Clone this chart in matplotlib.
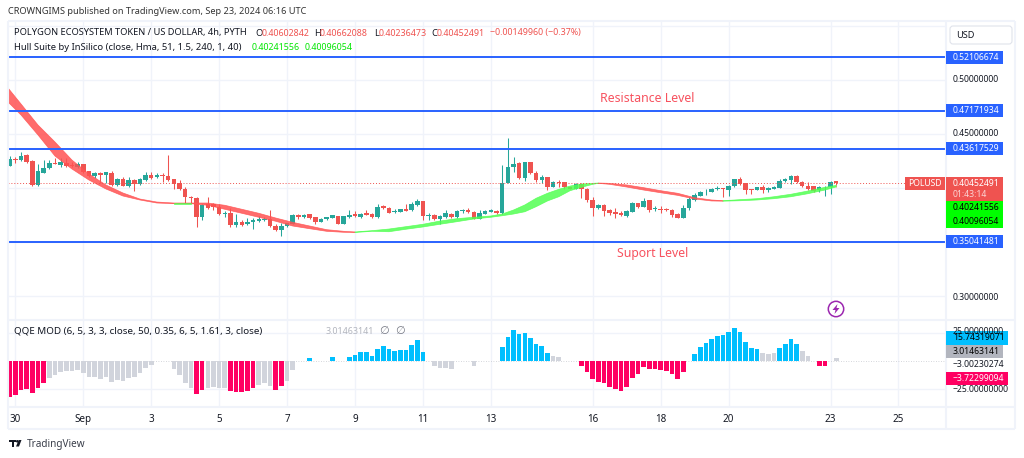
import matplotlib
matplotlib.use("Agg")
import matplotlib.pyplot as plt
import numpy as np
from matplotlib.patches import Circle, FancyBboxPatch, Polygon, Rectangle

plt.rcParams["font.family"] = ["Noto Sans", "DejaVu Sans"]

# 4h candles, bar 0 is Aug 29 20:00
open_ = [
    .4203, .4268, .4259, .4302, .4250, .4027, .4142, .4182, .4231, .4216,
    .4234, .4213, .4197, .4219, .4154, .4114, .4135, .4117, .4142, .4027,
    .4080, .4018, .4073, .4033, .4073, .4117, .4101, .4123, .4111, .4080,
    .4042, .3993, .3919, .3910, .3727, .3851, .3851, .3826, .3758, .3764,
    .3656, .3684, .3663, .3684, .3697, .3703, .3709, .3650, .3610, .3647,
    .3666, .3749, .3727, .3755, .3727, .3687, .3709, .3724, .3740, .3669,
    .3727, .3755, .3734, .3764, .3758, .3727, .3829, .3817, .3774, .3780,
    .3802, .3792, .3842, .3876, .3743, .3749, .3712, .3727, .3761, .3727,
    .3789, .3795, .3780, .3712, .3758, .3780, .3786, .3764, .4042, .4191,
    .4228, .4095, .4237, .4142, .4077, .4098, .4012, .4058, .4055, .4005,
    .3990, .4036, .3993, .3885, .3811, .3839, .3795, .3774, .3771, .3743,
    .3780, .3857, .3823, .3885, .3802, .3808, .3805, .3795, .3758, .3721,
    .3811, .3888, .3928, .3968, .3965, .3990, .3996, .3981, .4018, .4083,
    .4042, .3987, .3981, .4009, .3978, .3993, .4002, .4061, .4073, .4111,
    .4058, .4021, .4015, .3981, .4005, .4005, .40603,
]
close = [
    .4265, .4259, .4299, .4243, .4027, .4157, .4188, .4234, .4222, .4240,
    .4203, .4200, .4219, .4151, .4111, .4135, .4117, .4145, .4027, .4083,
    .4021, .4073, .4036, .4080, .4120, .4095, .4120, .4114, .4073, .4033,
    .3990, .3913, .3907, .3727, .3845, .3811, .3820, .3758, .3771, .3656,
    .3681, .3660, .3681, .3703, .3709, .3712, .3650, .3607, .3650, .3672,
    .3749, .3727, .3749, .3718, .3687, .3712, .3727, .3746, .3669, .3737,
    .3752, .3740, .3761, .3749, .3727, .3823, .3817, .3771, .3786, .3802,
    .3789, .3851, .3879, .3743, .3752, .3709, .3740, .3764, .3727, .3786,
    .3798, .3774, .3712, .3764, .3786, .3792, .3764, .4042, .4194, .4222,
    .4095, .4237, .4135, .4073, .4098, .4012, .4055, .4042, .4005, .3990,
    .4036, .3990, .3885, .3811, .3839, .3786, .3764, .3761, .3746, .3783,
    .3860, .3823, .3882, .3792, .3811, .3798, .3795, .3746, .3721, .3814,
    .3894, .3934, .3962, .3975, .3987, .3999, .3990, .4021, .4080, .4033,
    .3981, .3978, .4005, .3978, .4002, .4012, .4067, .4080, .4111, .4052,
    .4018, .3987, .3975, .4005, .4009, .4058, .40452,
]
high = [
    .4296, .4284, .4333, .4312, .4259, .4222, .4259, .4259, .4281, .4275,
    .4275, .4243, .4243, .4219, .4160, .4145, .4151, .4151, .4160, .4095,
    .4104, .4104, .4080, .4089, .4145, .4145, .4135, .4135, .4305, .4086,
    .4073, .4005, .3928, .3919, .3851, .3919, .3863, .3851, .3786, .3811,
    .3755, .3703, .3718, .3718, .3740, .3727, .3795, .3666, .3672, .3678,
    .3755, .3755, .3755, .3758, .3734, .3718, .3734, .3752, .3743, .3740,
    .3795, .3786, .3771, .3792, .3764, .3851, .3845, .3820, .3802, .3805,
    .3851, .3870, .3900, .3879, .3771, .3755, .3752, .3795, .3764, .3792,
    .3808, .3811, .3783, .3792, .3792, .3802, .3792, .4216, .4463, .4290,
    .4243, .4240, .4240, .4160, .4120, .4101, .4064, .4073, .4058, .4012,
    .4049, .4042, .3996, .3919, .3851, .3851, .3808, .3811, .3783, .3795,
    .3866, .3863, .3907, .3891, .3832, .3832, .3814, .3808, .3771, .3842,
    .3919, .3950, .3972, .3993, .3999, .4018, .3999, .4027, .4086, .4098,
    .4049, .3990, .4012, .4027, .4005, .4018, .4080, .4089, .4117, .4117,
    .4064, .4058, .4021, .4018, .4018, .4067, .40662,
]
low = [
    .4203, .4234, .4253, .4234, .4021, .4021, .4142, .4179, .4219, .4197,
    .4191, .4191, .4182, .4135, .4098, .4089, .4042, .4042, .4018, .4018,
    .4018, .4012, .3975, .4027, .4067, .4083, .4095, .4058, .4067, .3990,
    .3981, .3857, .3857, .3641, .3703, .3805, .3795, .3752, .3727, .3641,
    .3635, .3647, .3656, .3625, .3687, .3697, .3641, .3601, .3557, .3641,
    .3663, .3709, .3721, .3715, .3666, .3684, .3703, .3721, .3666, .3666,
    .3724, .3727, .3721, .3746, .3724, .3724, .3802, .3768, .3764, .3777,
    .3786, .3789, .3832, .3703, .3703, .3706, .3663, .3721, .3724, .3724,
    .3764, .3771, .3709, .3709, .3755, .3774, .3755, .3761, .4042, .4148,
    .4083, .4067, .4126, .4058, .4049, .3981, .4005, .4012, .3987, .3987,
    .3987, .3904, .3870, .3740, .3805, .3743, .3749, .3724, .3740, .3734,
    .3777, .3817, .3820, .3780, .3786, .3771, .3783, .3727, .3718, .3718,
    .3795, .3882, .3925, .3934, .3962, .3981, .3919, .3928, .4012, .4027,
    .3941, .3944, .3978, .3956, .3959, .3987, .3999, .4055, .4036, .4042,
    .4005, .3981, .3962, .3962, .3928, .3944, .40236,
]

# hull band, read every few bars
hull_idx = [-1, 2, 5, 8, 11, 14, 17, 20, 23, 26, 29, 32, 35, 38, 41, 44, 47, 50,
            53, 56, 59, 61, 64, 67, 70, 73, 76, 79, 82, 85, 87, 89, 91, 93, 95,
            97, 99, 101, 103, 104, 106, 109, 112, 115, 118, 121, 124, 126, 129,
            132, 135, 138, 141, 144, 146]
hull_upper = [
    .4972, .4778, .4583, .4426, .4259, .4130, .4028, .3954, .3898, .3870, .3861,
    .3861, .3861, .3840, .3803, .3766, .3722, .3682, .3648, .3614, .3599, .3593,
    .3605, .3620, .3642, .3664, .3694, .3716, .3729, .3741, .3759, .3796, .3843,
    .3905, .3951, .3988, .4018, .4037, .4043, .4046, .4043, .4028, .4003, .3975,
    .3951, .3910, .3889, .3882, .3892, .3901, .3919, .3942, .3972, .4006, .40242,
]
hull_lower = [
    .4833, .4676, .4491, .4296, .4176, .4074, .3991, .3926, .3889, .3861, .3855,
    .3855, .3840, .3803, .3766, .3729, .3692, .3648, .3623, .3599, .3590, .3588,
    .3599, .3595, .3618, .3639, .3664, .3688, .3713, .3729, .3743, .3759, .3780,
    .3827, .3880, .3919, .3975, .4006, .4034, .4043, .4034, .4009, .3981, .3956,
    .3932, .3898, .3880, .3878, .3882, .3889, .3901, .3919, .3947, .3981, .40096,
]
hull_green_spans = [(29, 32), (61, 104), (126, 146)]

levels = [0.52106674, 0.47171934, 0.43617529, 0.35041481]
last_price = 0.40452491

qqe_values = [
    -31.8, -30.1, -25.6, -25.0, -28.6, -24.4, -19.6, -14.9, -12.2, -9.5,
    -8.6, -8.6, -8.0, -11.0, -14.6, -14.6, -16.4, -14.6, -18.8, -17.3,
    -18.2, -15.5, -14.3, -11.0, -6.5, -3.6, 0, 0, 0, -7.4,
    -12.8, -19.3, -23.8, -29.5, -25.9, -23.8, -22.9, -23.8, -24.0, -26.8,
    -27.4, -28.0, -26.8, -24.1, -21.7, -19.9, -22.0, -25.9, -22.3, -18.2,
    -8.0, 0, 0, 2.7, 0, 0, 0, 3.3, 0, 0,
    3.3, 5.4, 7.7, 7.7, 4.8, 10.4, 13.4, 10.7, 9.2, 9.8,
    9.8, 14.0, 18.5, 8.3, 0, -4.2, -6.5, -6.0, -7.4, 0,
    0, 0, -4.2, 0, 0, 0, 0, 12.8, 21.1, 27.4,
    24.1, 24.7, 20.2, 15.5, 13.4, 6.8, 4.8, 3.3, 0, 0,
    0, -4.2, -9.8, -15.8, -18.8, -19.9, -23.2, -24.7, -26.5, -22.9,
    -14.9, -11.3, -5.7, -6.8, -7.4, -8.0, -8.6, -11.9, -15.8, -10.1,
    0, 6.0, 12.8, 15.8, 19.6, 22.3, 23.5, 25.6, 29.2, 25.6,
    17.0, 11.9, 10.4, 6.8, 6.0, 6.8, 11.3, 15.2, 19.6, 15.5,
    9.2, 4.2, 0, -4.2, -4.2, 0, 3.01,
]
qqe_state = (
    "r" * 7 + "n" * 26 + "rr" + "nnnn" + "r" * 5 + "nnn" + "rr" + "nnnn" + "b" + "nnn" + "b"
    + "nn" + "b" * 14 + "n" * 13 + "b" * 9 + "n" * 5 + "r" * 19 + "n" + "b" * 12 + "nnn"
    + "bbbb" + "nnn" + "rr" + "nn"
)

tick_idx = [1, 13, 25, 37, 49, 61, 73, 85, 103, 115, 127, 145, 157]
tick_labels = ["30", "Sep", "3", "5", "7", "9", "11", "13", "16", "18", "20", "23", "25"]
price_ticks = [0.55, 0.50, 0.45, 0.40, 0.35, 0.30]

UP = "#26a69a"
DOWN = "#ef5350"
BLUE = "#2962ff"
GRID = "#f0f3fa"
INK = "#131722"
QQE_COLORS = {"r": "#ff0062", "b": "#00bfff", "n": "#d1d4dc"}

W, H = 1024, 458
fig = plt.figure(figsize=(W / 100, H / 100), dpi=100)
ax = fig.add_axes([8 / W, (H - 319) / H, 938 / W, 298 / H])
qq = fig.add_axes([8 / W, (H - 407) / H, 938 / W, 87 / H], sharex=ax)

# main pane
x = np.arange(len(close))
open_a, close_a = np.array(open_), np.array(close)
colors = np.where(close_a >= open_a, UP, DOWN)
ax.vlines(x, low, high, colors=colors, lw=0.75, zorder=3)
ax.bar(x, np.abs(close_a - open_a), bottom=np.minimum(open_a, close_a), width=0.8, color=colors, zorder=4)

hx = np.array(hull_idx)
strict = np.zeros(len(hx), bool)
edge = np.zeros(len(hx), bool)
for a, b in hull_green_spans:
    strict |= (hx > a) & (hx < b)
    edge |= (hx >= a) & (hx <= b)
ax.fill_between(hx, hull_lower, hull_upper, where=~strict, color="#ff5252", alpha=0.85, lw=0.5, zorder=5)
ax.fill_between(hx, hull_lower, hull_upper, where=edge, color="#52ff52", alpha=0.85, lw=0.5, zorder=5)

for lv in levels:
    ax.axhline(lv, color=BLUE, lw=1.4, zorder=6)
ax.axhline(last_price, xmax=(905 - 8) / 938, color=DOWN, lw=0.7, ls=(0, (1, 2)), zorder=6)

ax.set_xlim(-0.3, 165.4)
ax.set_ylim(0.5 - 239 / 1080, 0.5 + 59 / 1080)
ax.set_yticks(price_ticks)
ax.grid(True, color=GRID, lw=1)
ax.set_axisbelow(True)
ax.tick_params(left=False, bottom=False, labelleft=False, labelbottom=False)
for s in ax.spines.values():
    s.set_visible(False)

# QQE pane
qv = np.array(qqe_values)
qq.bar(x, qv, width=0.82, color=[QQE_COLORS[c] for c in qqe_state], zorder=3)
qq.axhline(0, color="#c8cad0", lw=0.6, ls=(0, (1, 2)), zorder=2)
qq.set_ylim(-46 / 1.12, 41 / 1.12)
qq.set_yticks([-25, 25])
qq.set_xticks(tick_idx, tick_labels)
qq.grid(True, color=GRID, lw=1)
qq.set_axisbelow(True)
qq.tick_params(left=False, bottom=False, labelleft=False, labelsize=7.1, labelcolor=INK, pad=5, length=0)
qq.get_xticklabels()[1].set_fontweight("bold")
for s in qq.spines.values():
    s.set_visible(False)

# overlay in pixel coordinates for the frame, tags and captions
ov = fig.add_axes([0, 0, 1, 1], zorder=10)
ov.set_xlim(0, W)
ov.set_ylim(H, 0)
ov.axis("off")
ov.patch.set_alpha(0)


def txt(px, py, s, size=6.2, color=INK, ha="left", **kw):
    ov.text(px, py, s, fontsize=size, color=color, ha=ha, va="center", **kw)


def tag(y0, y1, color, x0=946, x1=1003):
    ov.add_patch(Rectangle((x0, y0), x1 - x0, y1 - y0, color=color, lw=0, zorder=2))


def price_y(p):
    return H - ax.transData.transform((0, p))[1]


for coords in ([(8, 21), (1015, 21)], [(8, 21), (8, 429)], [(1015, 21), (1015, 429)],
               [(8, 429), (1015, 429)], [(8, 319.5), (1015, 319.5)], [(8, 407), (1015, 407)],
               [(946, 21), (946, 429)]):
    ov.plot(*zip(*coords), color=GRID, lw=1.5, zorder=1, solid_capstyle="butt")

txt(8, 11, "CROWNGIMS published on TradingView.com, Sep 23, 2024 06:16 UTC", 6.6, "#333333")
txt(14, 33, "POLYGON ECOSYSTEM TOKEN / US DOLLAR, 4h, PYTH", 6.7)
for px, letter, val_x, val in [(255, "O", 262, "0.40602842"), (314, "H", 320, "0.40662088"),
                               (374, "L", 379, "0.40236473"), (431, "C", 437, "0.40452491")]:
    txt(px, 33, letter, 6.7)
    txt(val_x, 33, val, 6.4, DOWN)
txt(490, 33, "\u22120.00149960 (\u22120.37%)", 6.4, DOWN)
txt(14, 47, "Hull Suite by InSilico (close, Hma, 51, 1.5, 240, 1, 40)", 6.8)
txt(252, 47, "0.40241556", 6.4, "#00e600")
txt(305, 47, "0.40096054", 6.4, "#00e600")

txt(600, 98.5, "Resistance Level", 8.85, "#f7525f")
txt(617, 253, "Suport Level", 8.8, "#f7525f")

txt(14, 331, "QQE MOD (6, 5, 3, 3, close, 50, 0.35, 6, 5, 1.61, 3, close)", 7.05)
txt(326, 331, "3.01463141", 6.4, "#b2b5be")
txt(379, 331, "\u2205", 8, "#787b86")
txt(395, 331, "\u2205", 8, "#787b86")

# right scale
ov.add_patch(FancyBboxPatch((950, 26), 62, 18, boxstyle="round,pad=0,rounding_size=3",
                            fc="white", ec="#e0e3eb", lw=0.8, zorder=2))
txt(956, 35, "USD", 6.6)
for p in [0.5, 0.45]:
    txt(953, price_y(p), f"{p:.8f}")
txt(953, 298, "0.30000000")
for lv in levels:
    yy = price_y(lv)
    tag(yy - 6.5, yy + 6.5, BLUE)
    txt(953, yy, f"{lv:.8f}", color="white")

tag(177, 201, "#ef5350")
ov.add_patch(Rectangle((905, 177), 40, 13, color="#ef5350", lw=0, zorder=2))
txt(908, 183.5, "POLUSD", 6.2, "white")
txt(953, 183.5, f"{last_price:.8f}", color="white")
txt(953, 194.5, "01:43:14", color="#fbd5d5")
tag(201, 228, "#00ff00")
txt(953, 208, "0.40241556", color="black")
txt(953, 221.5, "0.40096054", color="black")

txt(953, 331, "25.00000000")
tag(331, 345, "#00bfff", x1=1008)
txt(953, 338, "15.74319071", color="black")
tag(345, 358, "#b2b5be")
txt(953, 351.5, "3.01463141", color="black")
txt(953, 364.5, "\u22123.00230274")
tag(372, 385, "#ff0062", x1=1008)
txt(953, 378.5, "\u22123.72299094", color="white")
txt(953, 389, "\u221225.00000000")

# lightning badge
ov.add_patch(Circle((836, 309), 7.7, fc="white", ec="#9c27b0", lw=1.1, zorder=3))
ov.add_patch(Polygon([(837.5, 304), (832.5, 310), (835.5, 310), (834.5, 314), (839.5, 308), (836.5, 308)],
                     color="#9c27b0", lw=0, zorder=4))

# footer logo
ov.add_patch(Rectangle((8.5, 440), 7, 2.4, color=INK, lw=0))
ov.add_patch(Rectangle((11.5, 440), 2.6, 6.5, color=INK, lw=0))
ov.add_patch(Circle((17.3, 441.3), 1.3, color=INK, lw=0))
ov.add_patch(Polygon([(16, 446.5), (18.7, 440), (21.5, 440), (19, 446.5)], color=INK, lw=0))
txt(27, 444, "TradingView", 7.2, "#3a3e4a")

fig.savefig("out.png", dpi=100)
